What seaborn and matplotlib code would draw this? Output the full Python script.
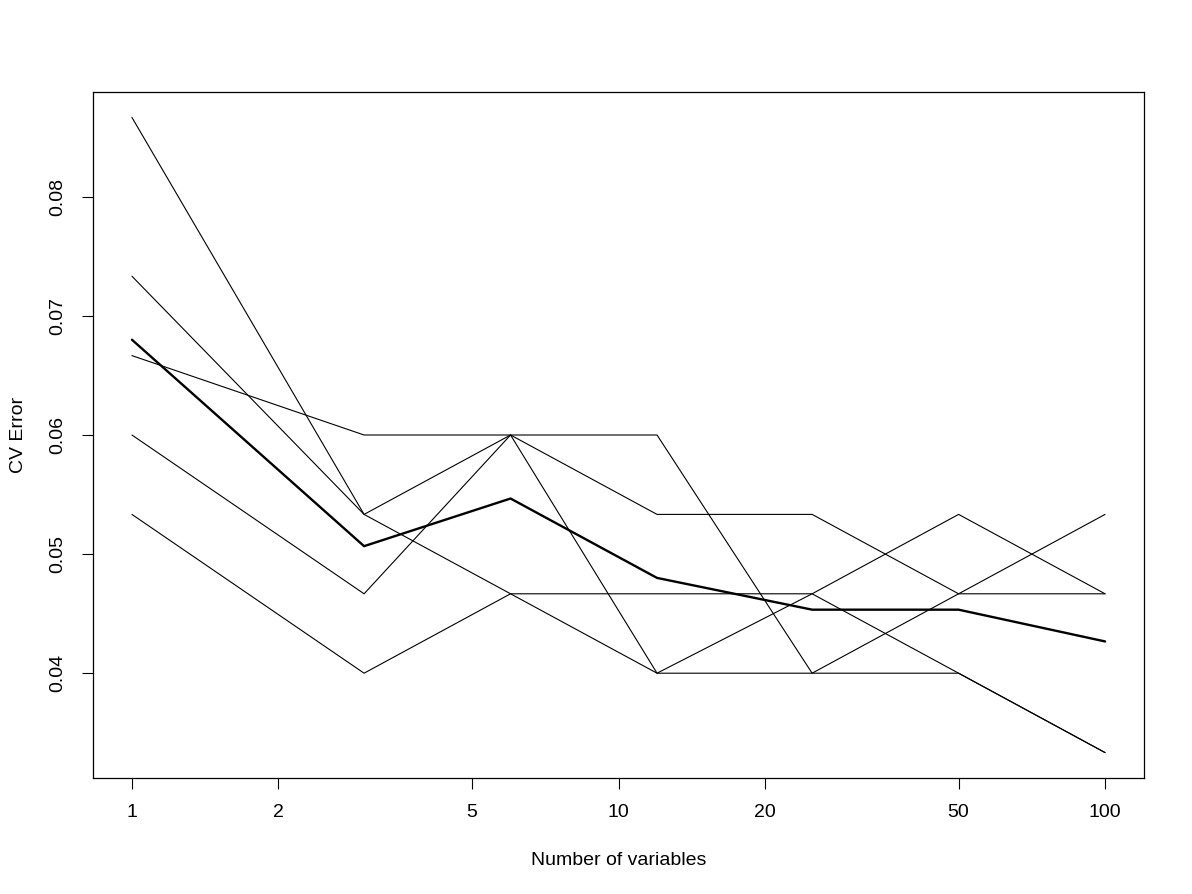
import matplotlib

matplotlib.use('Agg')
import matplotlib.pyplot as plt
import numpy as np
import pandas as pd
import seaborn as sns

# number of variables kept at each step
n_var = [1, 3, 6, 12, 25, 50, 100]

# cross-validation error for each of the five repeats (k / 150)
cv_rep1 = [13, 8, 9, 9, 6, 7, 8]
cv_rep2 = [11, 8, 7, 6, 7, 8, 7]
cv_rep3 = [10, 9, 9, 8, 8, 7, 7]
cv_rep4 = [9, 7, 9, 6, 6, 6, 5]
cv_rep5 = [8, 6, 7, 7, 7, 6, 5]
reps = [cv_rep1, cv_rep2, cv_rep3, cv_rep4, cv_rep5]

rows = []
for r, vals in enumerate(reps):
    for x, v in zip(n_var, vals):
        rows.append({"run": r, "nvar": x, "err": v / 150})
df = pd.DataFrame(rows)
mean_df = df.groupby("nvar", as_index=False)["err"].mean()

sns.set_style("ticks")
plt.rcParams['font.family'] = ['Liberation Sans', 'DejaVu Sans']
plt.rcParams['text.color'] = 'black'
plt.rcParams['axes.labelcolor'] = 'black'
plt.rcParams['xtick.color'] = 'black'
plt.rcParams['ytick.color'] = 'black'

fig = plt.figure(figsize=(11.92, 8.94), dpi=100)
ax = fig.add_axes([93 / 1192, 1 - 778 / 894, (1144 - 93) / 1192, (778 - 92) / 894])

sns.lineplot(data=df, x="nvar", y="err", units="run", estimator=None,
             color="black", linewidth=0.8, ax=ax)
sns.lineplot(data=mean_df, x="nvar", y="err", color="black", linewidth=1.7, ax=ax)

ax.set_xscale("log")
ax.set_xlim(10 ** -0.08, 10 ** 2.08)
ax.set_ylim(0.0312, 0.0888)
ax.set_xticks([1, 2, 5, 10, 20, 50, 100])
ax.set_xticklabels(["1", "2", "5", "10", "20", "50", "100"])
ax.minorticks_off()
ax.set_yticks([0.04, 0.05, 0.06, 0.07, 0.08])
ax.set_yticklabels(["0.04", "0.05", "0.06", "0.07", "0.08"], rotation=90, va="center")
ax.tick_params(length=8, width=0.8, labelsize=14, pad=11, color="black", labelcolor="black")
for s in ax.spines.values():
    s.set_visible(True)
    s.set_linewidth(0.9)
    s.set_color("black")
ax.set_xlabel("Number of variables", fontsize=14, labelpad=22)
ax.set_ylabel("CV Error", fontsize=14, labelpad=16)

fig.savefig("out.png", dpi=100)
